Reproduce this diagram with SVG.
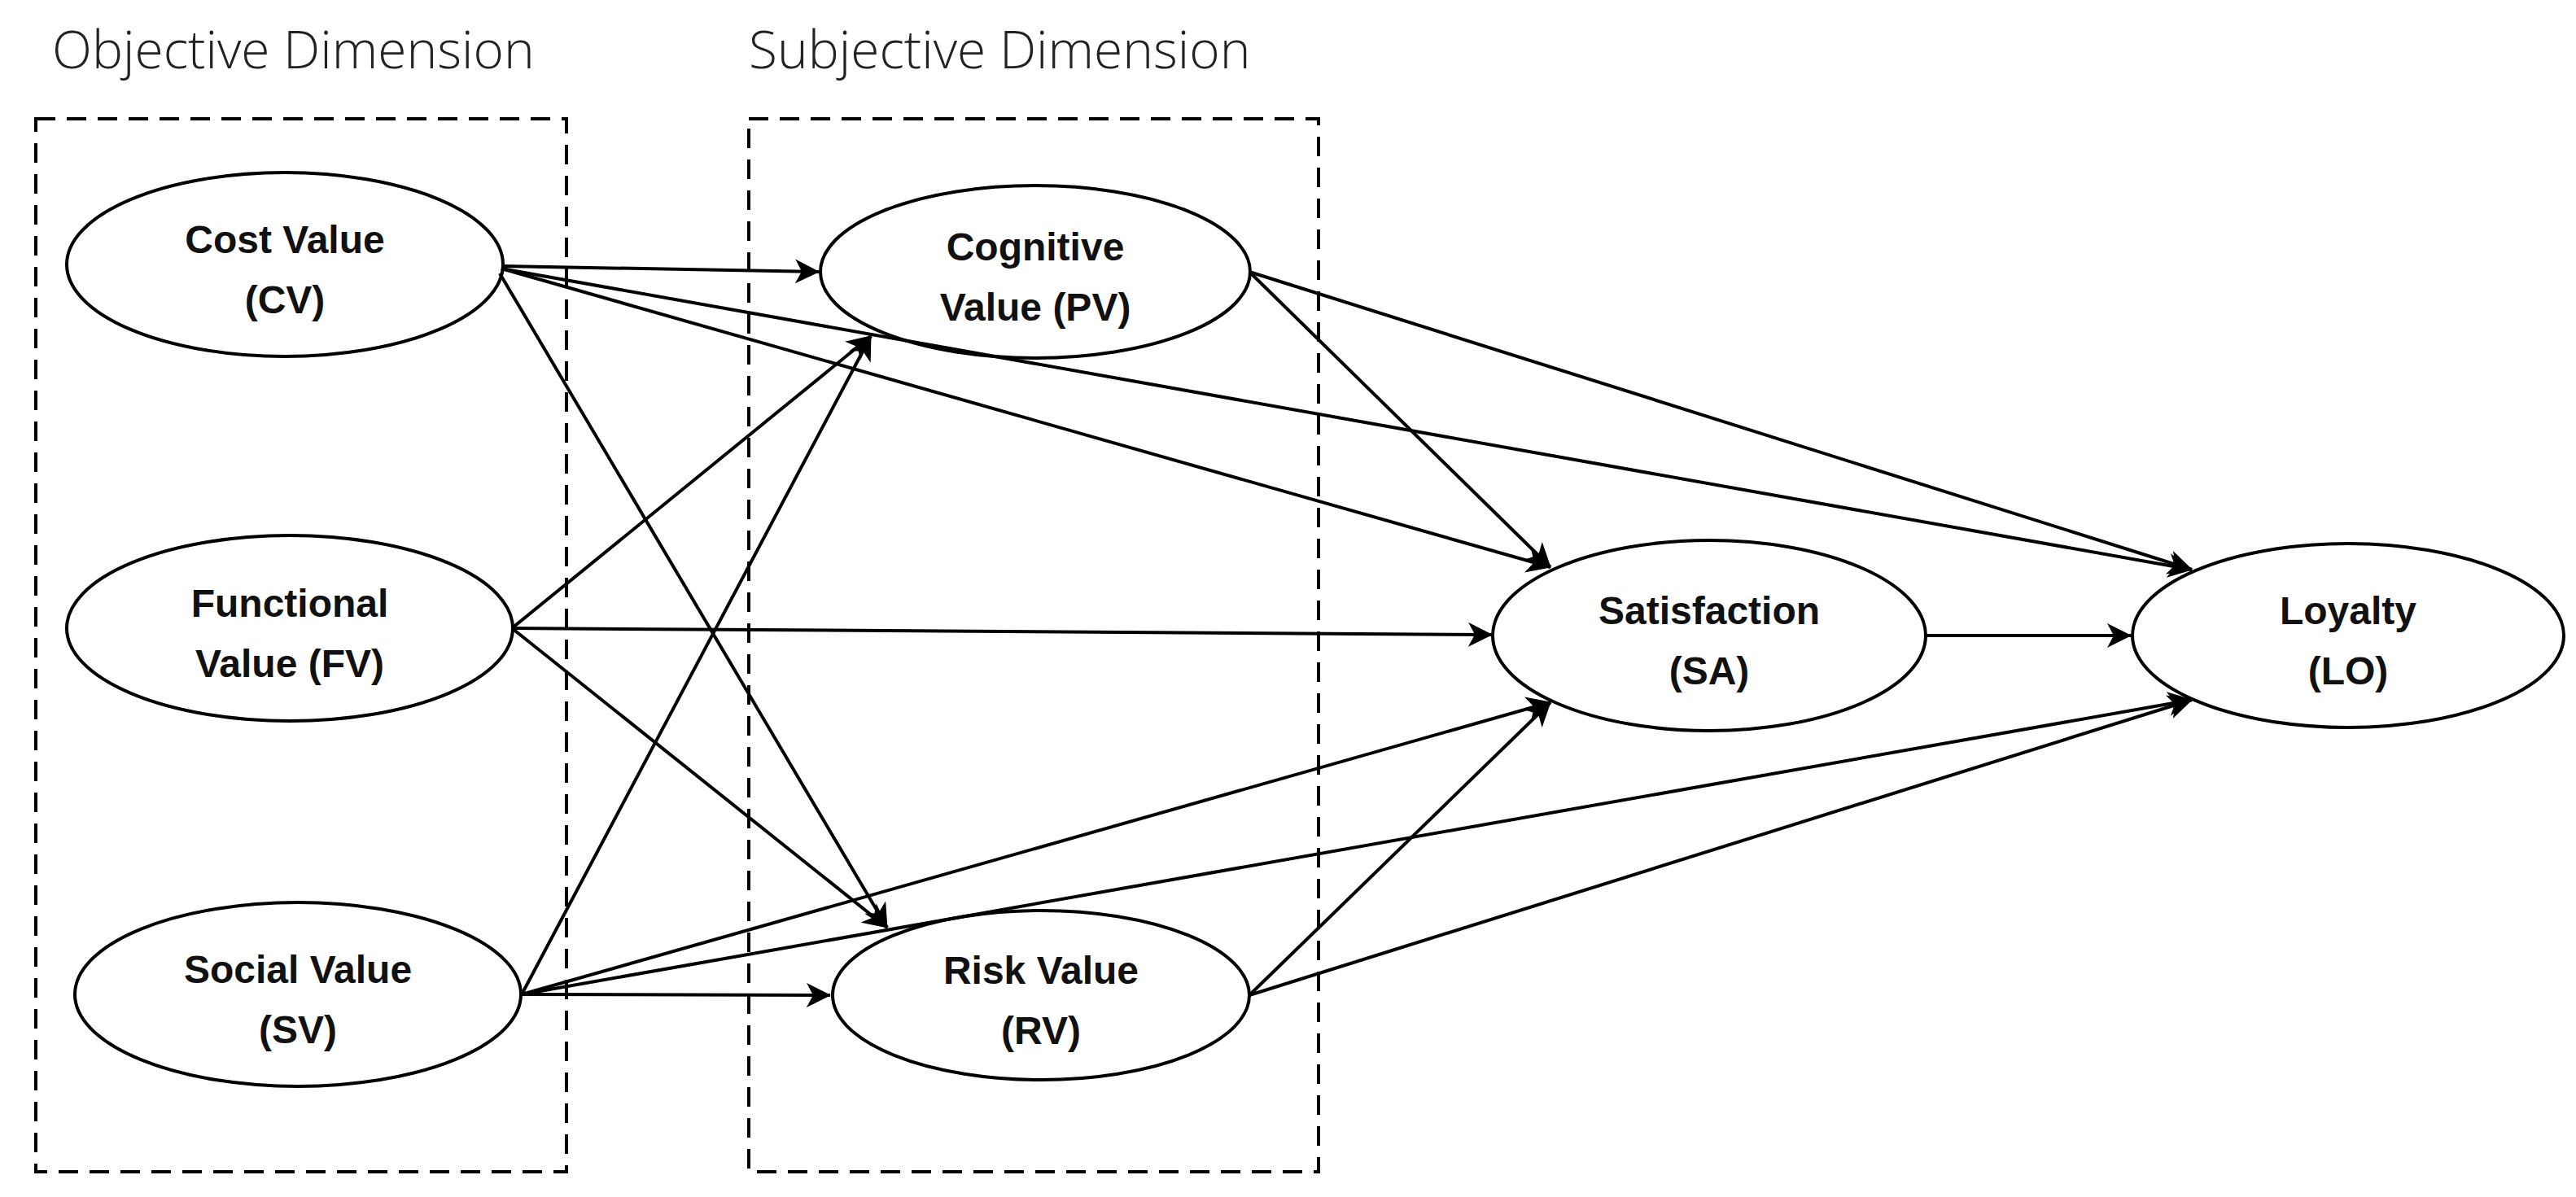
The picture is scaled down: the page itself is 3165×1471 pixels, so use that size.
<svg xmlns="http://www.w3.org/2000/svg" width="3165" height="1471" viewBox="0 0 3165 1471">
<style>
.n{fill:#fff;stroke:#000;stroke-width:4}
.t{font-family:"Liberation Sans",Arial,sans-serif;font-weight:bold;font-size:48px;text-anchor:middle;fill:#111}
.h{font-family:"Open Sans","Noto Sans",sans-serif;font-weight:300;font-size:64px;fill:#222}
.b{fill:none;stroke:#000;stroke-width:4;stroke-dasharray:24 14}
.e{stroke:#000;stroke-width:4;fill:none;marker-end:url(#a)}
</style>
<defs><marker id="a" viewBox="0 0 30 30" refX="29" refY="15" markerWidth="30" markerHeight="30" markerUnits="userSpaceOnUse" orient="auto"><path d="M0,0L30,15L0,30L8,15z" fill="#000"/></marker></defs>
<rect width="3165" height="1471" fill="#fff"/>
<text class="h" x="64" y="84">Objective Dimension</text>
<text class="h" x="920" y="84">Subjective Dimension</text>
<rect class="b" x="44" y="146" width="652" height="1294"/>
<rect class="b" x="920" y="146" width="700" height="1294"/>
<g id="CV"><ellipse class="n" cx="350" cy="325" rx="268" ry="113"/><text class="t" x="350" y="311">Cost Value</text><text class="t" x="350" y="385">(CV)</text></g>
<g id="FV"><ellipse class="n" cx="356" cy="772" rx="274" ry="114"/><text class="t" x="356" y="758">Functional</text><text class="t" x="356" y="832">Value (FV)</text></g>
<g id="SV"><ellipse class="n" cx="366" cy="1222" rx="274" ry="113"/><text class="t" x="366" y="1208">Social Value</text><text class="t" x="366" y="1282">(SV)</text></g>
<g id="PV"><ellipse class="n" cx="1272" cy="334" rx="264" ry="106"/><text class="t" x="1272" y="320">Cognitive</text><text class="t" x="1272" y="394">Value (PV)</text></g>
<g id="RV"><ellipse class="n" cx="1279" cy="1223" rx="256" ry="104"/><text class="t" x="1279" y="1209">Risk Value</text><text class="t" x="1279" y="1283">(RV)</text></g>
<g id="SA"><ellipse class="n" cx="2100" cy="781" rx="266" ry="117"/><text class="t" x="2100" y="767">Satisfaction</text><text class="t" x="2100" y="841">(SA)</text></g>
<g id="LO"><ellipse class="n" cx="2885" cy="781" rx="265" ry="113"/><text class="t" x="2885" y="767">Loyalty</text><text class="t" x="2885" y="841">(LO)</text></g>
<g id="edges">
<path class="e" d="M618,327L1006,334"/>
<path class="e" d="M616,330L1905,697"/>
<path class="e" d="M616,330L2693,700"/>
<path class="e" d="M614,336L1090,1140"/>
<path class="e" d="M629,772L1070,413"/>
<path class="e" d="M629,772L1833,780"/>
<path class="e" d="M629,772L1090,1140"/>
<path class="e" d="M641,1222L1070,413"/>
<path class="e" d="M641,1222L1905,863"/>
<path class="e" d="M641,1222L2693,860"/>
<path class="e" d="M641,1222L1020,1223"/>
<path class="e" d="M1535,334L1905,697"/>
<path class="e" d="M1535,334L2693,700"/>
<path class="e" d="M1535,1223L1905,863"/>
<path class="e" d="M1535,1223L2693,860"/>
<path class="e" d="M2366,781L2618,781"/>
</g>
</svg>
